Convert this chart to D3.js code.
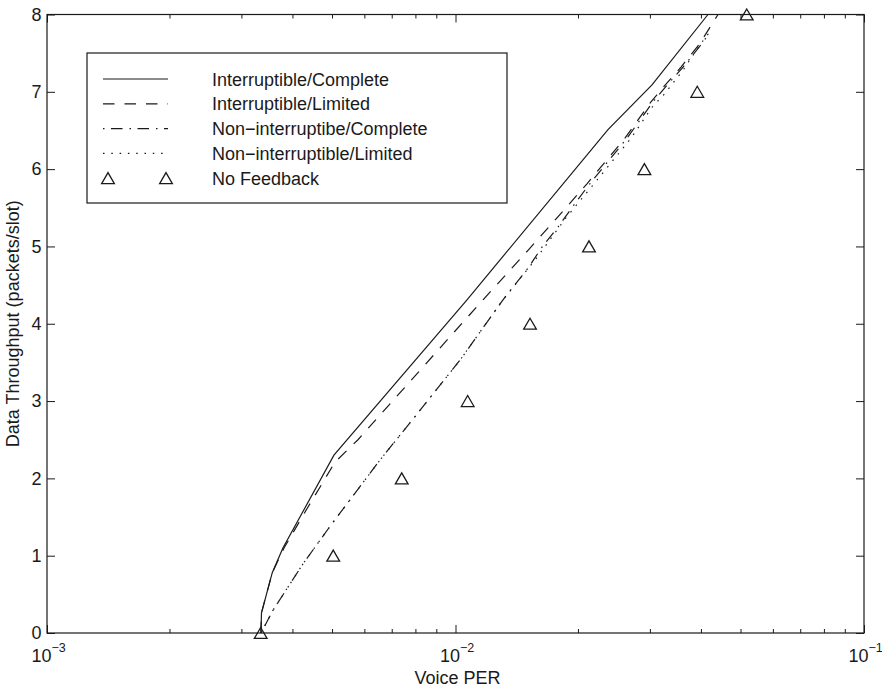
<!DOCTYPE html>
<html>
<head>
<meta charset="utf-8">
<script src="https://cdn.jsdelivr.net/npm/d3@7"></script>
<style>
  body { margin: 0; background: #fff; }
  text { font-family: "Liberation Sans", Arial, Helvetica, sans-serif; fill: #1a1a1a; }
</style>
</head>
<body>
<svg id="chart" width="882" height="690"></svg>
<script>
// ---- axis ticks and labels ----
const xMajorTicks = [1e-3, 1e-2, 1e-1];
const xTickExponents = ["\u22123", "\u22122", "\u22121"];
const yTicks = [0, 1, 2, 3, 4, 5, 6, 7, 8];
const xLabel = "Voice PER";
const yLabel = "Data Throughput (packets/slot)";

// ---- series: voice PER (x) against data throughput (y) ----
const seriesNames = [
  "Interruptible/Complete",
  "Interruptible/Limited",
  "Non\u2212interruptibe/Complete",
  "Non\u2212interruptible/Limited",
  "No Feedback"
];

const icPer = [3.34e-3, 3.35e-3, 3.56e-3, 3.78e-3, 5.04e-3, 1.067e-2, 2.362e-2, 3.027e-2, 4.15e-2];
const icThr = [0, 0.26, 0.78, 1.10, 2.30, 4.31, 6.51, 7.09, 8.0];

const ilPer = [3.34e-3, 3.35e-3, 3.56e-3, 3.804e-3, 4.355e-3, 5.07e-3, 5.771e-3, 1.168e-2, 1.505e-2, 1.772e-2, 2.098e-2, 2.599e-2, 3.01e-2, 3.275e-2, 3.565e-2, 3.946e-2, 4.392e-2];
const ilThr = [0, 0.26, 0.78, 1.10, 1.63, 2.21, 2.50, 4.31, 4.95, 5.37, 5.81, 6.40, 6.87, 7.10, 7.32, 7.61, 8.0];

const ncPer = [3.34e-3, 3.58e-3, 4.24e-3, 4.93e-3, 6.54e-3, 7.96e-3, 1.026e-2, 1.307e-2, 1.505e-2, 1.638e-2, 1.782e-2, 1.939e-2, 2.11e-2, 2.629e-2, 3.044e-2, 3.313e-2, 3.606e-2, 3.99e-2, 4.174e-2];
const ncThr = [0, 0.30, 0.90, 1.38, 2.24, 2.80, 3.53, 4.31, 4.72, 5.01, 5.25, 5.52, 5.78, 6.40, 6.87, 7.10, 7.32, 7.61, 7.75];

const nlPer = [3.34e-3, 3.58e-3, 4.24e-3, 4.93e-3, 6.54e-3, 7.96e-3, 1.026e-2, 1.307e-2, 1.574e-2, 1.864e-2, 2.183e-2, 2.689e-2, 3.027e-2, 3.258e-2, 3.606e-2, 3.967e-2, 4.174e-2];
const nlThr = [0, 0.30, 0.90, 1.38, 2.24, 2.80, 3.53, 4.31, 4.84, 5.37, 5.81, 6.40, 6.80, 6.98, 7.28, 7.61, 7.76];

const nfPer = [3.335e-3, 5.02e-3, 7.385e-3, 1.071e-2, 1.522e-2, 2.122e-2, 2.90e-2, 3.907e-2, 5.163e-2];
const nfThr = [0, 1, 2, 3, 4, 5, 6, 7, 8];

(function draw() {
  const svg = d3.select("#chart");
  const left = 47, right = 864, plotTop = 14.5, bottom = 633;
  const ink = "#1a1a1a";
  const fs = 18;

  const x = d3.scaleLog().domain([1e-3, 1e-1]).range([left, right]);
  const y = d3.scaleLinear().domain([0, 8]).range([bottom, plotTop]);

  const minorTicks = x.ticks().filter(v => !xMajorTicks.some(m => Math.abs(m - v) / m < 1e-9));

  // bottom and top axes: inward ticks (majors longer than minors)
  function xAxisGroup(ypos, dir) {
    const g = svg.append("g").attr("transform", `translate(0,${ypos})`);
    g.call((dir > 0 ? d3.axisBottom(x) : d3.axisTop(x))
        .tickValues(xMajorTicks).tickSize(-8).tickFormat(""));
    g.selectAll(".minor").data(minorTicks).enter().append("line")
      .attr("class", "minor")
      .attr("x1", d => x(d)).attr("x2", d => x(d))
      .attr("y1", 0).attr("y2", -4 * dir);
    g.select(".domain").remove();
    g.selectAll("line").attr("stroke", ink).attr("stroke-width", 1);
    return g;
  }
  xAxisGroup(bottom, 1);
  xAxisGroup(plotTop, -1);

  // left and right axes: inward ticks
  const yl = svg.append("g").attr("transform", `translate(${left},0)`)
    .call(d3.axisLeft(y).tickValues(yTicks).tickSize(-8).tickPadding(5.5).tickFormat(d3.format("d")));
  yl.select(".domain").remove();
  yl.selectAll("line").attr("stroke", ink);
  yl.selectAll("text").attr("font-size", fs).attr("fill", ink)
    .style("font-family", '"Liberation Sans", Arial, sans-serif');

  const yr = svg.append("g").attr("transform", `translate(${right},0)`)
    .call(d3.axisRight(y).tickValues(yTicks).tickSize(-8).tickFormat(""));
  yr.select(".domain").remove();
  yr.selectAll("line").attr("stroke", ink);

  // x tick labels as powers of ten
  const xl = svg.append("g");
  xMajorTicks.forEach((v, i) => {
    const t = xl.append("text")
      .attr("x", x(v) - 15.5).attr("y", 662)
      .attr("font-size", fs);
    t.append("tspan").text("10");
    t.append("tspan").attr("dy", -10).attr("font-size", 12.5).text(xTickExponents[i]);
  });

  // plot frame
  svg.append("rect")
    .attr("x", left).attr("y", plotTop)
    .attr("width", right - left).attr("height", bottom - plotTop)
    .attr("fill", "none").attr("stroke", ink).attr("stroke-width", 1.2);

  // axis titles
  svg.append("text").attr("x", x(1e-2) + 2).attr("y", 684)
    .attr("text-anchor", "middle").attr("font-size", fs).text(xLabel);
  svg.append("text")
    .attr("transform", `translate(19,${(plotTop + bottom) / 2}) rotate(-90)`)
    .attr("text-anchor", "middle").attr("font-size", fs).text(yLabel);

  // curves
  const styles = [
    { dash: null },
    { dash: "11.5,10" },
    { dash: "1.5,6.5,11.5,7" },
    { dash: "1.5,6.8" }
  ];
  const curves = [
    [icPer, icThr], [ilPer, ilThr], [ncPer, ncThr], [nlPer, nlThr]
  ];
  const line = d3.line().x(d => x(d[0])).y(d => y(d[1]));
  const plot = svg.append("g");
  curves.forEach(([px, py], i) => {
    plot.append("path")
      .datum(px.map((v, k) => [v, py[k]]))
      .attr("d", line)
      .attr("fill", "none").attr("stroke", ink).attr("stroke-width", 1.2)
      .attr("stroke-dasharray", styles[i].dash);
  });

  // no-feedback markers (open triangles, box-centred on the point)
  const tri = d3.symbol().type(d3.symbolTriangle).size(70);
  plot.selectAll(".nf").data(nfPer.map((v, k) => [v, nfThr[k]])).enter()
    .append("path").attr("class", "nf")
    .attr("d", tri)
    .attr("transform", d => `translate(${x(d[0])},${y(d[1]) + 1.8})`)
    .attr("fill", "none").attr("stroke", ink).attr("stroke-width", 1.3);

  // legend
  const lg = svg.append("g");
  lg.append("rect").attr("x", 87).attr("y", 53).attr("width", 420).attr("height", 150)
    .attr("fill", "#fff").attr("stroke", ink).attr("stroke-width", 1.2);
  seriesNames.forEach((name, i) => {
    const cy = 79 + i * 24.8;
    if (i < 4) {
      lg.append("line").attr("x1", 103).attr("x2", 168).attr("y1", cy).attr("y2", cy)
        .attr("stroke", ink).attr("stroke-width", 1.2)
        .attr("stroke-dasharray", styles[i].dash);
    } else {
      [108, 166].forEach(cx => {
        lg.append("path").attr("d", tri)
          .attr("transform", `translate(${cx},${cy + 1.8})`)
          .attr("fill", "none").attr("stroke", ink).attr("stroke-width", 1.3);
      });
    }
    lg.append("text").attr("x", 212).attr("y", cy + 6.5).attr("font-size", fs).text(name);
  });
})();
</script>
</body>
</html>
